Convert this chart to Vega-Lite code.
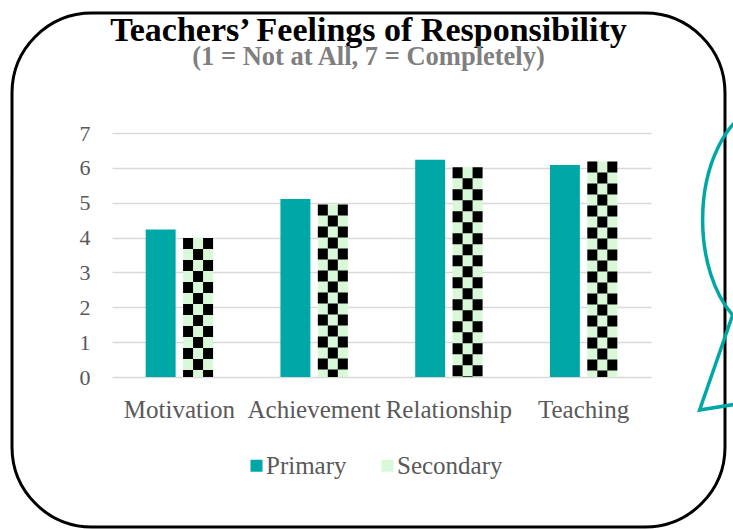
{
  "$schema": "https://vega.github.io/schema/vega-lite/v6.json",
  "width": 713,
  "height": 514,
  "autosize": {"type": "none"},
  "padding": {"left": 12, "top": 13, "right": 8, "bottom": 2},
  "background": "white",
  "config": {
    "view": {"stroke": "black", "strokeWidth": 3, "cornerRadius": 80, "fill": "white"},
    "style": {
      "guide-label": {"font": "Liberation Serif", "fill": "#595959"},
      "guide-title": {"font": "Liberation Serif"},
      "group-title": {"font": "Liberation Serif"},
      "group-subtitle": {"font": "Liberation Serif"}
    },
    "legend": {
      "labelFont": "Liberation Serif",
      "labelFontSize": 25,
      "labelColor": "#595959",
      "padding": 0,
      "symbolType": "square",
      "symbolSize": 144,
      "symbolStrokeWidth": 0
    }
  },
  "title": {
    "text": "Teachers’ Feelings of Responsibility",
    "subtitle": "(1 = Not at All, 7 = Completely)",
    "anchor": "middle",
    "frame": "group",
    "offset": -57,
    "font": "Liberation Serif",
    "fontSize": 34,
    "fontWeight": "bold",
    "color": "#000000",
    "subtitleFont": "Liberation Serif",
    "subtitleFontSize": 26.5,
    "subtitleFontWeight": "bold",
    "subtitleColor": "#7F7F7F",
    "subtitlePadding": -4
  },
  "data": {
    "values": [
      {"category": "Motivation", "series": "Primary", "value": 4.23},
      {"category": "Motivation", "series": "Secondary", "value": 3.99},
      {"category": "Achievement", "series": "Primary", "value": 5.11},
      {"category": "Achievement", "series": "Secondary", "value": 4.95},
      {"category": "Relationship", "series": "Primary", "value": 6.23},
      {"category": "Relationship", "series": "Secondary", "value": 6.02},
      {"category": "Teaching", "series": "Primary", "value": 6.08},
      {"category": "Teaching", "series": "Secondary", "value": 6.18}
    ]
  },
  "layer": [
    {
      "mark": {"type": "bar"},
      "encoding": {
        "x": {
          "field": "category",
          "type": "nominal",
          "sort": ["Motivation", "Achievement", "Relationship", "Teaching"],
          "scale": {"range": [100, 639], "paddingInner": 0, "paddingOuter": 0},
          "axis": {
            "orient": "bottom",
            "offset": -150,
            "title": null,
            "domain": false,
            "ticks": false,
            "tickSize": 0,
            "grid": false,
            "labelAngle": 0,
            "labelBaseline": "alphabetic",
            "labelPadding": 40,
            "labelFont": "Liberation Serif",
            "labelFontSize": 25,
            "labelColor": "#595959",
            "labelOverlap": false,
            "labelLimit": 300
          }
        },
        "xOffset": {
          "field": "series",
          "type": "nominal",
          "sort": ["Primary", "Secondary"],
          "scale": {"paddingInner": 0.2, "paddingOuter": 0.9}
        },
        "y": {
          "field": "value",
          "type": "quantitative",
          "scale": {"domain": [0, 7], "range": [364, 120], "nice": false, "zero": true},
          "axis": {
            "title": null,
            "values": [0, 1, 2, 3, 4, 5, 6, 7],
            "format": "d",
            "offset": -100,
            "domain": false,
            "ticks": false,
            "tickSize": 0,
            "labelPadding": 22,
            "labelFont": "Liberation Serif",
            "labelFontSize": 22,
            "labelColor": "#595959",
            "grid": true,
            "gridColor": "#D9D9D9",
            "gridWidth": 1.5
          }
        },
        "color": {
          "field": "series",
          "type": "nominal",
          "scale": {"domain": ["Primary", "Secondary"], "range": ["#00A7A7", "#D8F8D8"]},
          "legend": {
            "title": null,
            "orient": "none",
            "legendX": 232,
            "legendY": 440,
            "direction": "horizontal",
            "symbolType": "square",
            "symbolSize": 144,
            "symbolStrokeWidth": 0,
            "labelFont": "Liberation Serif",
            "labelFontSize": 25,
            "labelColor": "#595959",
            "labelOffset": -3,
            "columnPadding": 28,
            "padding": 0
          }
        }
      }
    },
    {
      "transform": [{"filter": "datum.series === 'Secondary'"}],
      "mark": {"type": "rule", "color": "black", "strokeWidth": 10, "strokeDash": [11, 11], "strokeDashOffset": 0, "xOffset": 8.7},
      "encoding": {
        "x": {"field": "category", "type": "nominal", "sort": ["Motivation", "Achievement", "Relationship", "Teaching"]},
        "y": {"field": "value", "type": "quantitative"},
        "y2": {"datum": 0}
      }
    },
    {
      "transform": [{"filter": "datum.series === 'Secondary'"}],
      "mark": {"type": "rule", "color": "black", "strokeWidth": 10, "strokeDash": [11, 11], "strokeDashOffset": 11, "xOffset": 18.7},
      "encoding": {
        "x": {"field": "category", "type": "nominal", "sort": ["Motivation", "Achievement", "Relationship", "Teaching"]},
        "y": {"field": "value", "type": "quantitative"},
        "y2": {"datum": 0}
      }
    },
    {
      "transform": [{"filter": "datum.series === 'Secondary'"}],
      "mark": {"type": "rule", "color": "black", "strokeWidth": 10, "strokeDash": [11, 11], "strokeDashOffset": 0, "xOffset": 28.7},
      "encoding": {
        "x": {"field": "category", "type": "nominal", "sort": ["Motivation", "Achievement", "Relationship", "Teaching"]},
        "y": {"field": "value", "type": "quantitative"},
        "y2": {"datum": 0}
      }
    },
    {
      "data": {"values": [{"label": "bubble"}]},
      "mark": {
        "type": "point",
        "shape": "M0.228,-2.129C-0.095,-2.025,-0.33,-1.551,-0.33,-1C-0.33,-0.62,-0.218,-0.265,-0.03,-0.05L-0.36,0.9L0.2,0.81",
        "size": 40000,
        "filled": false,
        "stroke": "#00A7A7",
        "strokeWidth": 3.5,
        "opacity": 1,
        "xOffset": 152
      },
      "encoding": {
        "x": {"datum": "Teaching", "type": "nominal"},
        "y": {"datum": 1.635, "type": "quantitative"}
      }
    }
  ]
}
